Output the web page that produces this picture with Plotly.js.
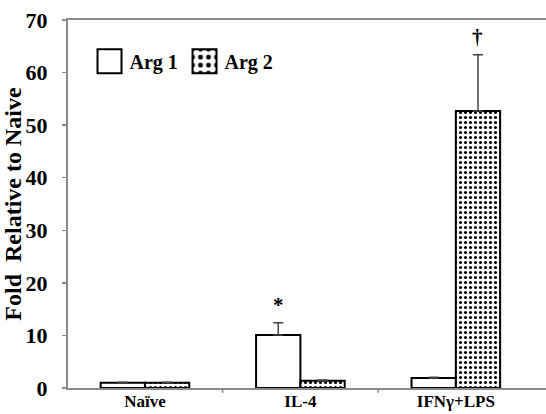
<!DOCTYPE html>
<html><head><meta charset="utf-8">
<script src="https://cdn.plot.ly/plotly-3.0.1.min.js"></script>
<style>html,body{margin:0;padding:0;background:#fff;}#chart{width:546px;height:414px;}</style>
</head><body><div id="chart"></div>
<script>
const categories = ["Naïve", "IL-4", "IFNγ+LPS"];
const arg1 = [1.0, 10.1, 1.9];
const arg1Err = [0.1, 2.3, 0.15];
const arg2 = [1.0, 1.4, 52.7];
const arg2Err = [0.1, 0.1, 10.7];
const yTicks = [0, 10, 20, 30, 40, 50, 60, 70];
const marks = [{cat: 1, series: 0, text: "*"}, {cat: 2, series: 1, text: "†"}];

const serif = "Liberation Serif, Times New Roman, serif";
const gray = "#8a8a8a";

const traces = [
  {type: "bar", name: "Arg 1", x: [0,1,2], y: arg1,
   marker: {color: "#fff", line: {color: "#000", width: 2}},
   error_y: {type: "data", symmetric: false, array: arg1Err, arrayminus: [0,0,0], color: "#444", thickness: 1.5, width: 5}},
  {type: "bar", name: "Arg 2", x: [0,1,2], y: arg2,
   marker: {color: "#fff", line: {color: "#000", width: 2},
            pattern: {shape: ".", fgcolor: "#000", bgcolor: "#fff", size: 5, solidity: 0.3}},
   error_y: {type: "data", symmetric: false, array: arg2Err, arrayminus: [0,0,0], color: "#444", thickness: 1.5, width: 5}}
];

const offs = [-0.142, 0.142];
const annotations = marks.map(m => {
  const vals = m.series === 0 ? arg1 : arg2;
  const errs = m.series === 0 ? arg1Err : arg2Err;
  return {x: m.cat + offs[m.series], y: vals[m.cat] + errs[m.cat], xref: "x", yref: "y",
          text: "<b>" + m.text + "</b>", showarrow: false, yanchor: "bottom", yshift: 4,
          font: {family: serif, size: 21, color: "#000"}};
});

const layout = {
  width: 546, height: 414,
  margin: {l: 68, r: 0, t: 20, b: 26},
  paper_bgcolor: "#fff", plot_bgcolor: "#fff",
  barmode: "group", bargap: 0.43, bargroupgap: 0,
  showlegend: true,
  legend: {orientation: "h", x: 0.045, y: 0.941, xanchor: "left", yanchor: "top",
           entrywidth: 50, entrywidthmode: "pixels",
           font: {family: serif, size: 20, color: "#000", weight: "bold"}, bgcolor: "rgba(0,0,0,0)"},
  xaxis: {type: "linear", range: [-0.495, 2.58], tickmode: "array",
          tickvals: [0,1,2], ticktext: categories, ticks: "", showgrid: false, zeroline: false,
          showline: true, linecolor: gray, linewidth: 2, mirror: true, ticklabelstandoff: -3,
          tickfont: {family: serif, size: 17, color: "#000", weight: "bold"}},
  yaxis: {range: [0, 70], tickmode: "array", tickvals: yTicks, ticks: "outside", ticklen: 4,
          tickcolor: gray, tickwidth: 1.5, showgrid: false, zeroline: false,
          showline: true, linecolor: gray, linewidth: 2, ticklabelstandoff: 10,
          tickfont: {family: serif, size: 22, color: "#000", weight: "bold"},
          title: {text: "Fold\u00a0 Relative to Naive", standoff: 4,
                  font: {family: serif, size: 24, color: "#000", weight: "bold"}}},
  shapes: [0.5, 1.5].map(b => ({type: "line", xref: "x", yref: "paper", x0: b, x1: b, y0: 0, y1: -0.013,
           line: {color: gray, width: 1.5}})),
  annotations: annotations
};

Plotly.newPlot("chart", traces, layout, {displayModeBar: false, staticPlot: true}).then(() => {
  document.querySelectorAll(".legendpoints path").forEach(p => {
    p.setAttribute("transform", (p.getAttribute("transform") || "") + " scale(2)");
    p.setAttribute("vector-effect", "non-scaling-stroke");
  });
});
</script></body></html>
